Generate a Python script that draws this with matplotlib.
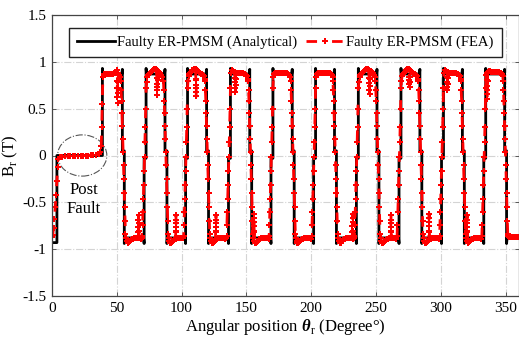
import numpy as np
import matplotlib
matplotlib.use("Agg")
import matplotlib.pyplot as plt
from matplotlib.patches import Ellipse

plt.rcParams['font.family'] = ['Liberation Serif', 'DejaVu Serif']
plt.rcParams['mathtext.fontset'] = 'custom'
plt.rcParams['mathtext.rm'] = 'Liberation Serif'
plt.rcParams['mathtext.bf'] = 'Liberation Serif:italic:bold'
plt.rcParams['axes.unicode_minus'] = False

# pulse edges (degrees)
rise = [38.9, 72.6, 104.6, 137.7, 170.5, 203.4, 236.4, 269.3, 302.1, 334.7]
fall = [54.3, 87.2, 119.3, 152.6, 185.4, 218.0, 250.8, 283.9, 316.7, 349.3]

# analytical levels
top_level = 0.87
top_edge = 0.93
bot_level = -0.88
bot_edge = -0.94

# FEA: transitions (offset from edge, value)
rise_off = [-3.0, -2.7, -2.4, -2.1, -1.8, -1.5, -1.2, -0.9, -0.6, -0.3, 0.0]
rise_val = [-0.86, -0.74, -0.6, -0.46, -0.32, -0.17, -0.02, 0.14, 0.3, 0.5, 0.72]
fall_off = [-1.2, -0.9, -0.6, -0.3, 0.0, 0.3, 0.6, 0.9, 1.2, 1.5, 1.8, 2.1, 2.4]
fall_val = [0.8, 0.7, 0.58, 0.45, 0.32, 0.18, 0.04, -0.1, -0.25, -0.4, -0.55, -0.7, -0.84]

# FEA: pulse tops (offset from rise)
top_off = [0.4, 0.9, 1.5, 2.2, 3.0, 3.8, 4.6, 5.4, 6.2, 7.0, 7.8, 8.6, 9.4, 10.2, 11.0, 11.8, 12.6, 13.2]
top_vals = [
    [0.84, 0.86, 0.87, 0.87, 0.87, 0.87, 0.87, 0.87, 0.87, 0.87, 0.87, 0.88, 0.88, 0.89, 0.91, 0.88, 0.86, 0.84],
    [0.78, 0.84, 0.86, 0.87, 0.88, 0.89, 0.90, 0.91, 0.92, 0.925, 0.92, 0.91, 0.90, 0.89, 0.88, 0.86, 0.84, 0.80],
    [0.80, 0.85, 0.87, 0.88, 0.89, 0.91, 0.92, 0.925, 0.92, 0.91, 0.90, 0.89, 0.88, 0.87, 0.87, 0.86, 0.85, 0.82],
    [0.88, 0.91, 0.91, 0.90, 0.89, 0.89, 0.88, 0.88, 0.88, 0.88, 0.88, 0.88, 0.88, 0.87, 0.87, 0.86, 0.85, 0.82],
    [0.84, 0.87, 0.88, 0.88, 0.88, 0.88, 0.88, 0.88, 0.88, 0.88, 0.88, 0.88, 0.88, 0.88, 0.88, 0.87, 0.86, 0.84],
    [0.84, 0.87, 0.88, 0.88, 0.88, 0.88, 0.88, 0.88, 0.88, 0.88, 0.88, 0.88, 0.88, 0.88, 0.88, 0.87, 0.86, 0.84],
    [0.78, 0.84, 0.86, 0.87, 0.88, 0.89, 0.90, 0.91, 0.92, 0.925, 0.92, 0.91, 0.90, 0.89, 0.88, 0.86, 0.84, 0.80],
    [0.80, 0.85, 0.87, 0.88, 0.89, 0.91, 0.92, 0.925, 0.92, 0.91, 0.90, 0.89, 0.88, 0.87, 0.87, 0.86, 0.85, 0.82],
    [0.88, 0.91, 0.91, 0.90, 0.89, 0.89, 0.88, 0.88, 0.88, 0.88, 0.88, 0.88, 0.88, 0.87, 0.87, 0.86, 0.85, 0.82],
    [0.86, 0.88, 0.89, 0.90, 0.90, 0.89, 0.89, 0.89, 0.89, 0.89, 0.89, 0.89, 0.89, 0.89, 0.88, 0.88, 0.87, 0.85],
]
top_dips = [(11.6, 0.56), (8.6, 0.65), (6.6, 0.63), (3.8, 0.68), None,
            None, (8.6, 0.66), (6.6, 0.73), (3.0, 0.70), (1.2, 0.60)]

# FEA: bottoms (offset from fall)
bot_off = [2.8, 3.4, 4.0, 4.7, 5.4, 6.1, 6.8, 7.5, 8.2, 8.9, 9.6, 10.3, 11.0, 11.7, 12.4, 13.1, 13.8, 14.5, 15.0]
bot_val = [-0.88, -0.91, -0.93, -0.93, -0.92, -0.91, -0.90, -0.89, -0.89, -0.88, -0.88,
           -0.88, -0.88, -0.88, -0.88, -0.88, -0.88, -0.89, -0.88]
bot_dips = [(12.5, -0.64), (8.4, -0.64), (7.2, -0.64), (3.2, -0.62), None,
            (14.0, -0.62), (10.8, -0.64), (7.1, -0.62), (3.6, -0.64), None]
last_off = [2.8, 3.6, 4.4, 5.2, 6.0, 6.8, 7.6, 8.4, 9.2, 10.0, 10.7]
last_val = [-0.86, -0.87, -0.87, -0.87, -0.87, -0.87, -0.87, -0.87, -0.87, -0.87, -0.87]

# FEA: start and post-fault section
pf_x = [0.0, 0.6, 1.2, 1.8, 2.5, 3.1, 3.8, 4.3, 5.0, 6.4, 8.0, 10.0, 12.0, 14.0, 16.0, 18.0,
        20.0, 22.0, 24.0, 26.0, 28.0, 30.0, 32.0, 34.0, 36.0, 37.4, 38.0, 38.4, 38.7]
pf_y = [-0.87, -0.85, -0.77, -0.68, -0.55, -0.42, -0.27, -0.12, -0.04, -0.02, -0.015, -0.01,
        -0.01, -0.01, -0.005, -0.005, 0.0, 0.0, 0.0, 0.0, 0.0, 0.005, 0.01, 0.01, 0.02, 0.04,
        0.1, 0.3, 0.55]
analytic_start_x = [0.0, 3.8, 3.8]
analytic_start_y = [-0.93, -0.93, 0.0]

chain_pos = [-0.25, -0.15, -0.05, 0.05, 0.15, 0.25]
chain_frac = [0.25, 0.5, 0.8, 1.0, 0.65, 0.3]


def add_chain(xs, ys, base_x, dip, base_val):
    if dip is None:
        return
    d, m = dip
    for p, f in zip(chain_pos, chain_frac):
        xs.append(base_x + d + p)
        ys.append(base_val + f * (m - base_val))


# analytical waveform
ax_x = list(analytic_start_x)
ax_y = list(analytic_start_y)
for k, (r, f) in enumerate(zip(rise, fall)):
    if k == 0:
        ax_x += [r]
        ax_y += [0.0]
    else:
        ax_x += [r - 1.9, r - 1.5, r - 1.5, r]
        ax_y += [bot_level, bot_edge, -0.03, -0.03]
    ax_x += [r, r + 0.4, f - 0.4, f, f, f + 1.5, f + 1.5, f + 1.9]
    ax_y += [top_edge, top_level, top_level, 0.92, 0.05, 0.05, bot_edge, bot_level]
ax_x.append(360)
ax_y.append(bot_level)

# FEA waveform
fe_x = list(pf_x)
fe_y = list(pf_y)
for k, (r, f) in enumerate(zip(rise, fall)):
    if k > 0:
        fe_x += [r + o for o in rise_off]
        fe_y += rise_val
    tx = [r + o for o in top_off]
    ty = list(top_vals[k])
    add_chain(tx, ty, r, top_dips[k], 0.88)
    order = np.argsort(tx)
    fe_x += list(np.array(tx)[order])
    fe_y += list(np.array(ty)[order])
    fe_x += [f + o for o in fall_off]
    fe_y += fall_val
    if k < len(rise) - 1:
        lim = rise[k + 1] - 3.1
        bx = [f + o for o in bot_off if f + o < lim]
        by = [v for o, v in zip(bot_off, bot_val) if f + o < lim]
        add_chain(bx, by, f, bot_dips[k], -0.88)
        order = np.argsort(bx)
        fe_x += list(np.array(bx)[order])
        fe_y += list(np.array(by)[order])
    else:
        fe_x += [f + o for o in last_off]
        fe_y += last_val

fig = plt.figure(figsize=(5.19, 3.47), dpi=100)
ax = fig.add_axes([52 / 519, 51 / 347, 466.5 / 519, 281 / 347])

ax.plot(ax_x, ax_y, color='black', linewidth=2.0, label='Faulty ER-PMSM (Analytical)')
ax.plot(fe_x, fe_y, color='red', linewidth=2.0, linestyle=(0, (3.8, 5.4)),
        marker='P', markersize=4, markeredgewidth=0,
        label='Faulty ER-PMSM (FEA)')

ax.add_patch(Ellipse((23.3, 0.0), 38, 0.44, fill=False, edgecolor='#555555',
                     linestyle='-.', linewidth=0.8))
ax.text(24.3, -0.47, 'Post\nFault', ha='center', va='center', fontsize=12,
        linespacing=1.25)

ax.set_xlim(0, 360)
ax.set_ylim(-1.5, 1.5)
ax.set_xticks(np.arange(0, 351, 50))
ax.set_yticks([-1.5, -1, -0.5, 0, 0.5, 1, 1.5])
ax.set_yticklabels(['-1.5', '-1', '-0.5', '0', '0.5', '1', '1.5'])
ax.tick_params(direction='in', length=3, width=0.6, color='#444444',
               top=True, right=True, labelsize=11, pad=4)
ax.grid(True, color='#d4d4d4', linestyle='-.', linewidth=0.8)
for s in ax.spines.values():
    s.set_color('#444444')
    s.set_linewidth(0.9)

ax.set_xlabel(r'Angular position $\mathbf{\theta}_\mathrm{r}$ (Degree°)', fontsize=12, labelpad=2)
ax.set_ylabel(r'B$_\mathrm{r}$ (T)', fontsize=12, labelpad=2)

leg = ax.legend(loc='upper center', bbox_to_anchor=(0.5, 0.97), ncol=2, fontsize=10.5,
                frameon=True, fancybox=False, framealpha=1, edgecolor='#222222',
                handlelength=2.6, columnspacing=0.6, handletextpad=0.15, numpoints=1,
                borderpad=0.55, borderaxespad=0.3)
leg.get_frame().set_linewidth(1.0)

fig.savefig('out.png', dpi=100)
